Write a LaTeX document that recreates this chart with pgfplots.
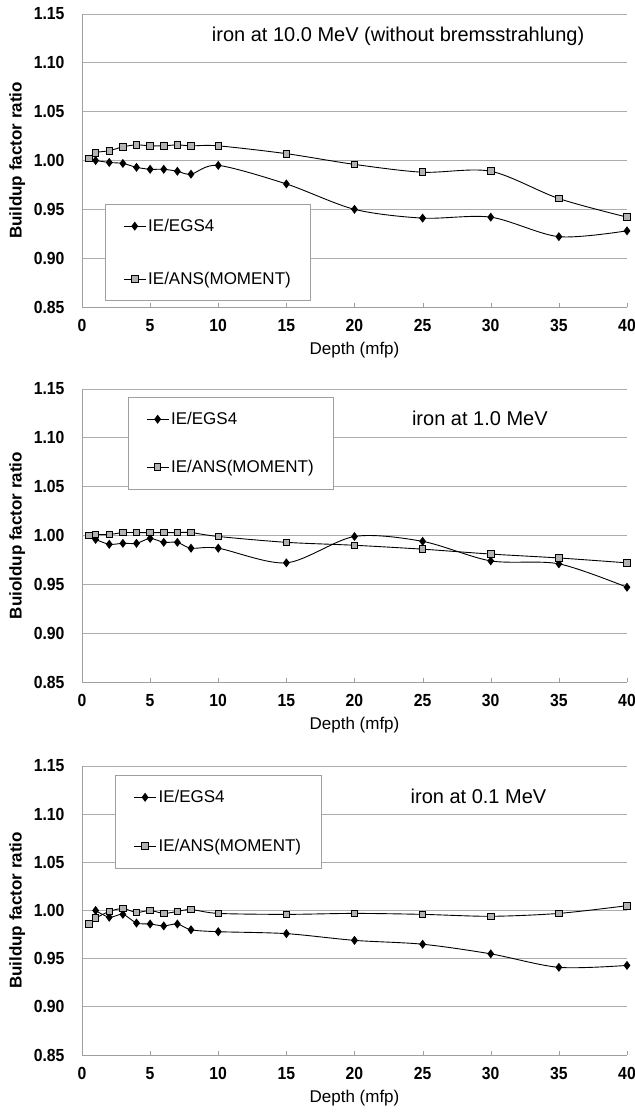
\documentclass[border=0pt]{standalone}
\usepackage{fontspec}
\setmainfont{Liberation Sans}
\newfontfamily\tickfamily[FakeStretch=0.9]{Liberation Sans}
\usepackage{pgfplots}
\pgfplotsset{compat=1.18}

\newcommand{\lblfont}{\fontsize{17bp}{20bp}\selectfont}
\newcommand{\tckfont}{\tickfamily\fontsize{17.5bp}{19bp}\selectfont\bfseries}

\pgfplotsset{
  bfr/.style={
    scale only axis,
    width=545bp, height=293bp,
    xmin=0, xmax=40, ymin=0.85, ymax=1.15,
    xtick={0,5,10,15,20,25,30,35,40},
    ytick={0.85,0.9,0.95,1,1.05,1.1,1.15},
    yticklabel style={xshift=-14bp, /pgf/number format/.cd, fixed, fixed zerofill, precision=2},
    /pgf/number format/assume math mode=true,
    tick label style={font=\tckfont},
    xticklabel style={yshift=-9bp},
    axis x line*=bottom, axis y line*=left,
    axis line style={-, draw=gray!75, line width=0.9bp},
    tick align=inside, major tick length=4bp,
    xtick style={draw=gray!75},
    ytick style={draw=none},
    ymajorgrids,
    grid style={draw=gray!65, line width=0.7bp},
    xlabel={Depth (mfp)},
    xlabel style={font=\lblfont, yshift=-3bp},
    ylabel style={font=\lblfont\bfseries, at={(axis description cs:-0.119,0.5)}, anchor=center},
    legend cell align=left,
    legend image code/.code={
      \draw[mark repeat=2, mark phase=2, #1] plot coordinates {(0bp,0bp) (11bp,0bp) (22bp,0bp)};
    },
    legend style={anchor=north west, draw=gray!75, line width=0.8bp, fill=white,
      font=\lblfont, inner xsep=18bp, inner ysep=13bp},
  },
  egs/.style={black, line width=0.9bp, smooth, tension=0.5,
    mark=diamond*, mark size=3.8bp, mark options={solid, fill=black}},
  ans/.style={black, line width=0.9bp, smooth, tension=0.5,
    mark=square*, mark size=3.3bp, mark options={solid, fill=gray!60, draw=black}},
}

\begin{document}
\begin{tikzpicture}
\path[use as bounding box] (0,0) rectangle (635bp,-1115bp);

% 10.0 MeV
\begin{axis}[bfr, at={(82bp,-14bp)}, anchor=north west,
  ylabel={Buildup factor ratio},
  legend style={at={(0.042,0.352)}, row sep=35bp}]
\addplot[egs] coordinates {
  (1,1.000) (2,0.998) (3,0.997) (4,0.993) (5,0.991) (6,0.991) (7,0.989) (8,0.986)
  (10,0.995) (15,0.976) (20,0.950) (25,0.941) (30,0.942) (35,0.922) (40,0.928)};
\addplot[ans] coordinates {
  (0.5,1.002) (1,1.008) (2,1.010) (3,1.014) (4,1.016) (5,1.015) (6,1.015) (7,1.016) (8,1.015)
  (10,1.015) (15,1.007) (20,0.996) (25,0.988) (30,0.989) (35,0.961) (40,0.942)};
\legend{IE/EGS4, IE/ANS(MOMENT)}
\node[font=\fontsize{20bp}{22bp}\selectfont] at (axis cs:23.2,1.1275) {iron at 10.0 MeV (without bremsstrahlung)};
\end{axis}

% 1.0 MeV
\begin{axis}[bfr, at={(82bp,-389bp)}, anchor=north west,
  ylabel={Buioldup factor ratio},
  legend style={at={(0.084,0.973)}, row sep=30bp}]
\addplot[egs] coordinates {
  (1,0.996) (2,0.991) (3,0.992) (4,0.992) (5,0.997) (6,0.993) (7,0.993) (8,0.987)
  (10,0.987) (15,0.972) (20,0.999) (25,0.994) (30,0.974) (35,0.971) (40,0.947)};
\addplot[ans] coordinates {
  (0.5,1.000) (1,1.001) (2,1.001) (3,1.003) (4,1.003) (5,1.003) (6,1.003) (7,1.003) (8,1.003)
  (10,0.999) (15,0.993) (20,0.990) (25,0.986) (30,0.981) (35,0.977) (40,0.972)};
\legend{IE/EGS4, IE/ANS(MOMENT)}
\node[font=\fontsize{20bp}{22bp}\selectfont] at (axis cs:29.2,1.120) {iron at 1.0 MeV};
\end{axis}

% 0.1 MeV
\begin{axis}[bfr, at={(82bp,-766bp)}, anchor=north west, height=289bp,
  ylabel={Buildup factor ratio},
  legend style={at={(0.061,0.969)}, row sep=31bp}]
\addplot[egs] coordinates {
  (1,1.000) (2,0.993) (3,0.996) (4,0.987) (5,0.986) (6,0.984) (7,0.986) (8,0.980)
  (10,0.978) (15,0.976) (20,0.969) (25,0.965) (30,0.955) (35,0.941) (40,0.943)};
\addplot[ans] coordinates {
  (0.5,0.986) (1,0.992) (2,0.999) (3,1.002) (4,0.998) (5,1.000) (6,0.997) (7,0.999) (8,1.001)
  (10,0.997) (15,0.996) (20,0.997) (25,0.996) (30,0.994) (35,0.997) (40,1.005)};
\legend{IE/EGS4, IE/ANS(MOMENT)}
\node[font=\fontsize{20bp}{22bp}\selectfont] at (axis cs:29.1,1.119) {iron at 0.1 MeV};
\end{axis}
\end{tikzpicture}
\end{document}
